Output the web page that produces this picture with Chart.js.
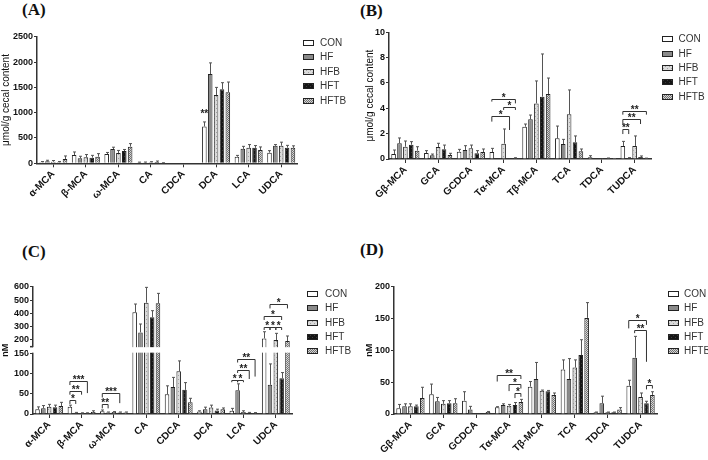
<!DOCTYPE html>
<html lang="en">
<head>
<meta charset="UTF-8">
<title>Bile acid profiles</title>
<style>
    * { margin: 0; padding: 0; box-sizing: border-box; }
    body { background: #fff; width: 708px; height: 460px; position: relative; overflow: hidden; }
    canvas { position: absolute; }
    .tag {
        position: absolute;
        font-family: 'Liberation Serif', 'Times New Roman', serif;
        font-weight: bold;
        font-size: 17px;
        line-height: 1;
        color: #111;
    }
</style>
</head>
<body>
<div class="tag" style="left:22px; top:1px">(A)</div>
<div class="tag" style="left:360px; top:2px">(B)</div>
<div class="tag" style="left:22px; top:243px">(C)</div>
<div class="tag" style="left:360px; top:241px">(D)</div>

<canvas id="chartA" width="354" height="225" style="left:0; top:0"></canvas>
<canvas id="chartB" width="353" height="225" style="left:355px; top:0"></canvas>
<canvas id="chartC" width="354" height="235" style="left:0; top:225px"></canvas>
<canvas id="chartD" width="353" height="235" style="left:355px; top:225px"></canvas>

<script src="https://cdn.jsdelivr.net/npm/chart.js"></script>
<script>
// groups and bile acids
const groups = ['CON', 'HF', 'HFB', 'HFT', 'HFTB'];
const freeAcids = ['α-MCA', 'β-MCA', 'ω-MCA', 'CA', 'CDCA', 'DCA', 'LCA', 'UDCA'];
const conjAcids = ['Gβ-MCA', 'GCA', 'GCDCA', 'Tα-MCA', 'Tβ-MCA', 'TCA', 'TDCA', 'TUDCA'];

// (A) cecal free bile acids, µmol/g  (one row per group)
const aMean = [
    [20, 164, 184, 15, 0, 727, 131, 210],
    [40, 99, 283, 15, 0, 1763, 285, 345],
    [30, 118, 204, 20, 0, 1349, 305, 347],
    [20, 112, 243, 25, 0, 1462, 305, 309],
    [85, 131, 329, 5, 0, 1405, 263, 305]
];
const aErr = [
    [15, 60, 30, 8, 0, 90, 25, 40],
    [20, 40, 35, 10, 0, 220, 50, 25],
    [25, 55, 50, 12, 0, 150, 65, 70],
    [15, 45, 30, 20, 0, 130, 45, 45],
    [60, 60, 60, 5, 0, 200, 60, 40]
];
// [acid, group, group, height, stars, left leg end, right leg end]
const aSig = [[5, 0, 0, 954, '**']];

// (B) cecal conjugated bile acids, µmol/g
const bMean = [
    [0.39, 0.47, 0.58, 0.55, 2.55, 1.63, 0.13, 1.03],
    [1.24, 0.29, 0.71, 0.02, 3.13, 1.18, 0.02, 0.08],
    [0.97, 0.95, 0.84, 1.21, 4.39, 3.53, 0.01, 1.03],
    [1.13, 0.76, 0.45, 0.01, 4.92, 1.32, 0.05, 0.16],
    [0.66, 0.32, 0.55, 0.08, 5.13, 0.61, 0.03, 0.05]
];
const bErr = [
    [0.32, 0.19, 0.18, 0.29, 0.21, 0.97, 0.13, 0.36],
    [0.42, 0.10, 0.34, 0, 0.34, 0.37, 0, 0.03],
    [0.45, 0.29, 0.26, 1.16, 1.77, 1.92, 0, 0.79],
    [0.24, 0.34, 0.21, 0, 3.37, 0.50, 0.03, 0.08],
    [0.31, 0.13, 0.24, 0.02, 1.26, 0.18, 0.01, 0.02]
];
const bSig = [
    [3, 0, 4, 4.71, '*', 4.53, 4.39],
    [3, 2, 4, 4.08, '*', 3.87, 3.87],
    [3, 0, 3, 3.39, '*', 2.95, 2.29],
    [7, 0, 4, 3.82, '**', 3.5, 3.5],
    [7, 0, 3, 3.13, '**', 2.76, 2.76],
    [7, 0, 1, 2.34, '**', 1.97, 1.97]
];

// (C) serum free bile acids, nM
const cMean = [
    [11.7, 18, 7, 408, 49, 6, 8, 212],
    [14, 3, 4, 257, 67, 12, 59, 72.5],
    [18, 2, 5, 480, 106, 16, 5, 200],
    [17, 2, 4, 370, 60, 9, 3, 89],
    [20, 5, 4, 475, 29, 12, 2.5, 192]
];
const cErr = [
    [6, 4, 3, 62, 21, 2, 6, 50],
    [7, 1, 1, 63, 24, 5, 16, 52],
    [6, 1, 1, 115, 26, 6, 3, 50],
    [5, 1, 1, 50, 18, 3, 1, 14],
    [9, 3, 1, 75, 10, 3, 1, 38]
];
const cTicks = [0, 50, 100, 150, 200, 300, 400, 500, 600];
const cSig = [
    [1, 0, 1, 35, '*', 25, 25],
    [1, 0, 2, 58, '**', 48, 48],
    [1, 0, 3, 81, '***', 72, 52],
    [2, 0, 1, 24, '**', 14, 14],
    [2, 0, 3, 52, '***', 41, 27],
    [6, 0, 1, 85, '*', 79, 79],
    [6, 1, 2, 85, '*', 79, 79],
    [6, 1, 3, 110, '**', 102, 87],
    [6, 1, 4, 137, '**', 128, 93],
    [7, 0, 1, 300, '*', 275, 275],
    [7, 1, 2, 300, '*', 275, 275],
    [7, 2, 3, 300, '*', 275, 275],
    [7, 0, 3, 382, '*', 350, 350],
    [7, 1, 4, 470, '*', 437, 437]
];

// (D) serum conjugated bile acids, nM
const dMean = [
    [9, 31, 21, 10.5, 43, 70, 2.6, 44.5],
    [12, 20, 7, 14, 55, 55, 17, 88.5],
    [12, 16, 1, 13, 36.6, 73, 2.6, 26.7],
    [12, 17, 1.5, 14, 35.6, 92.7, 2.6, 17],
    [25, 17, 3, 19, 30, 151, 7, 30]
];
const dErr = [
    [6, 16, 14, 1, 8, 15, 0.5, 8.5],
    [4, 6, 5, 2, 26, 32, 11, 33.5],
    [4, 5, 0, 2, 1, 12, 0.5, 6.3],
    [2, 4, 0, 4, 1.4, 24, 0.5, 3],
    [17, 7, 1, 4, 3, 24, 3, 5]
];
const dSig = [
    [3, 0, 4, 61, '**', 51, 55],
    [3, 2, 4, 47, '*', 36, 40],
    [3, 3, 4, 32.5, '*', 25, 27],
    [7, 0, 3, 147.6, '*', 134.5, 140],
    [7, 1, 3, 132, '**', 127, 82],
    [7, 3, 4, 45.5, '*', 38.7, 40]
];

const INK = '#111';
const AXIS = '#333';
const FONT = "'Liberation Sans', Arial, sans-serif";
Chart.defaults.font.family = FONT;
Chart.defaults.color = INK;

// small fill textures like the prism bar patterns
function texture(bg, fg, dots, size) {
    const c = document.createElement('canvas');
    c.width = c.height = size;
    const g = c.getContext('2d');
    g.fillStyle = bg;
    g.fillRect(0, 0, size, size);
    g.fillStyle = fg;
    dots.forEach(([x, y]) => g.fillRect(x, y, 1, 1));
    return g.createPattern(c, 'repeat');
}
const fills = [
    '#ffffff',
    '#8a8a8a',
    texture('#dadada', '#a0a0a0', [[0, 0], [2, 2]], 4),
    texture('#151515', '#3a3a3a', [[0, 0], [2, 2]], 4),
    texture('#d6d6d6', '#707070', [[0, 0], [1, 1]], 2)
];

// y axis with a break: 0-150 in the lower part, 150-600 squeezed above
const CUT = 150, LOW_SHARE = 0.474, GAP_SHARE = 0.055;
class BrokenScale extends Chart.LinearScale {
    band() {
        const h = this.bottom - this.top;
        const low = this.bottom - h * LOW_SHARE;
        return [low - h * GAP_SHARE, low];
    }
    getPixelForValue(v) {
        const [gapTop, low] = this.band();
        if (v <= CUT) return this.bottom - (v - this.min) / (CUT - this.min) * (this.bottom - low);
        return gapTop - (v - CUT) / (this.max - CUT) * (gapTop - this.top);
    }
    getValueForPixel(p) {
        const [gapTop, low] = this.band();
        if (p >= low) return this.min + (this.bottom - p) / (this.bottom - low) * (CUT - this.min);
        return CUT + (gapTop - p) / (gapTop - this.top) * (this.max - CUT);
    }
}
BrokenScale.id = 'broken';
BrokenScale.defaults = Chart.LinearScale.defaults;
Chart.register(BrokenScale);

// error whiskers, axis break, significance brackets and the side legend
function decor(cfg) {
    return {
        id: 'decor',
        afterDatasetsDraw(chart) {
            const { ctx, chartArea: a, scales: { y } } = chart;

            ctx.save();
            ctx.beginPath();
            ctx.rect(a.left, a.top - 2, a.right - a.left, a.bottom - a.top + 2);
            ctx.clip();
            ctx.strokeStyle = '#555';
            ctx.lineWidth = 1;
            chart.data.datasets.forEach((ds, i) => {
                chart.getDatasetMeta(i).data.forEach((bar, j) => {
                    const e = ds.errors[j];
                    if (!e) return;
                    const x = Math.round(bar.x) + 0.5;
                    const top = y.getPixelForValue(ds.data[j] + e);
                    ctx.beginPath();
                    ctx.moveTo(x, bar.y);
                    ctx.lineTo(x, top);
                    ctx.moveTo(x - 1.5, top);
                    ctx.lineTo(x + 1.5, top);
                    ctx.stroke();
                });
            });
            ctx.restore();

            if (y.band) {
                const [gTop, gBot] = y.band();
                ctx.save();
                ctx.fillStyle = '#fff';
                ctx.fillRect(a.left - 5, gTop + 0.5, a.right - a.left + 5, gBot - gTop - 1.5);
                ctx.strokeStyle = AXIS;
                ctx.lineWidth = 1.5;
                ctx.beginPath();
                ctx.moveTo(a.left - 3, gTop);
                ctx.lineTo(a.left, gTop);
                ctx.stroke();
                ctx.restore();
            }

            ctx.save();
            ctx.strokeStyle = '#333';
            ctx.fillStyle = '#222';
            ctx.lineWidth = 1;
            ctx.font = 'bold 10px ' + FONT;
            ctx.textAlign = 'center';
            cfg.sig.forEach(([cat, g1, g2, v, stars, v1, v2]) => {
                const x1 = chart.getDatasetMeta(g1).data[cat].x;
                const x2 = chart.getDatasetMeta(g2).data[cat].x;
                const yy = Math.round(y.getPixelForValue(v)) + 0.5;
                if (g1 !== g2) {
                    ctx.beginPath();
                    ctx.moveTo(x1, y.getPixelForValue(v1));
                    ctx.lineTo(x1, yy);
                    ctx.lineTo(x2, yy);
                    ctx.lineTo(x2, y.getPixelForValue(v2));
                    ctx.stroke();
                }
                ctx.fillText(stars, (x1 + x2) / 2, yy + 1.5);
            });
            ctx.restore();
        },
        afterDraw(chart) {
            const { ctx, chartArea: a } = chart;
            const lg = cfg.legend;
            ctx.save();
            ctx.font = '10px ' + FONT;
            ctx.textBaseline = 'middle';
            chart.data.datasets.forEach((ds, i) => {
                const x = Math.round(a.right + lg.dx);
                const yc = Math.round(a.top + lg.dy + i * lg.step);
                ctx.fillStyle = ds.backgroundColor;
                ctx.fillRect(x, yc - 3, 11, 6);
                ctx.strokeStyle = '#222';
                ctx.lineWidth = 1;
                ctx.strokeRect(x + 0.5, yc - 2.5, 10, 5);
                ctx.fillStyle = '#333';
                ctx.fillText(ds.label, x + lg.text, yc + 0.5);
            });
            ctx.restore();
        }
    };
}

function panel(id, cfg) {
    const datasets = groups.map((g, i) => ({
        label: g,
        data: cfg.mean[i],
        errors: cfg.err[i],
        backgroundColor: fills[i],
        borderColor: '#222',
        borderWidth: 1,
        barPercentage: 0.78,
        categoryPercentage: 0.9
    }));
    const yScale = {
        type: cfg.yType || 'linear',
        min: 0,
        max: cfg.yMax,
        grid: { drawOnChartArea: false, tickLength: 3, color: AXIS },
        border: { color: AXIS, width: 1.5 },
        ticks: {
            stepSize: cfg.yStep,
            font: { size: 9, weight: 'bold' },
            color: INK,
            padding: 1,
            autoSkip: false,
            callback: v => String(v)
        },
        title: { display: true, text: cfg.yTitle, font: cfg.yTitleFont, color: INK, padding: { top: cfg.titlePad, bottom: 0 } },
        afterFit: s => { s.width = cfg.yWidth; }
    };
    if (cfg.yTicks) {
        yScale.afterBuildTicks = s => { s.ticks = cfg.yTicks.map(v => ({ value: v })); };
    }
    return new Chart(document.getElementById(id), {
        type: 'bar',
        data: { labels: cfg.labels, datasets },
        options: {
            responsive: false,
            animation: false,
            events: [],
            layout: { padding: { top: cfg.padTop, right: cfg.padRight, left: 0, bottom: 0 } },
            plugins: { legend: { display: false }, tooltip: { enabled: false } },
            scales: {
                x: {
                    grid: { drawOnChartArea: false, offset: false, tickLength: 4, color: AXIS },
                    border: { color: AXIS, width: 1.5 },
                    ticks: { font: { size: 10, weight: 'bold' }, color: INK, minRotation: 45, maxRotation: 45, autoSkip: false, padding: 1 },
                    afterFit: s => { s.height = cfg.xHeight; }
                },
                y: yScale
            }
        },
        plugins: [decor(cfg)]
    });
}

panel('chartA', {
    labels: freeAcids, mean: aMean, err: aErr, sig: aSig,
    yMax: 2500, yStep: 500,
    yTitle: 'μmol/g cecal content', yTitleFont: { size: 10 }, titlePad: 0,
    yWidth: 37, xHeight: 61.7, padTop: 36.7, padRight: 56.5,
    legend: { dx: 5.5, dy: 6.3, step: 14.4, text: 17 }
});

panel('chartB', {
    labels: conjAcids, mean: bMean, err: bErr, sig: bSig,
    yMax: 10, yStep: 2,
    yTitle: 'μmol/g cecal content', yTitleFont: { size: 10 }, titlePad: 9,
    yWidth: 34, xHeight: 66, padTop: 32.3, padRight: 57,
    legend: { dx: 11, dy: 7, step: 14.3, text: 16.5 }
});

panel('chartC', {
    labels: freeAcids, mean: cMean, err: cErr, sig: cSig,
    yType: 'broken', yMax: 600, yTicks: cTicks,
    yTitle: 'nM', yTitleFont: { size: 9, weight: 'bold' }, titlePad: 0,
    yWidth: 33, xHeight: 46, padTop: 61.7, padRight: 62,
    legend: { dx: 14.7, dy: 7.3, step: 14.3, text: 18 }
});

panel('chartD', {
    labels: conjAcids, mean: dMean, err: dErr, sig: dSig,
    yMax: 200, yStep: 50,
    yTitle: 'nM', yTitleFont: { size: 9, weight: 'bold' }, titlePad: 9.6,
    yWidth: 39, xHeight: 46, padTop: 61.7, padRight: 51,
    legend: { dx: 11, dy: 7.3, step: 14.3, text: 16 }
});
</script>
</body>
</html>
